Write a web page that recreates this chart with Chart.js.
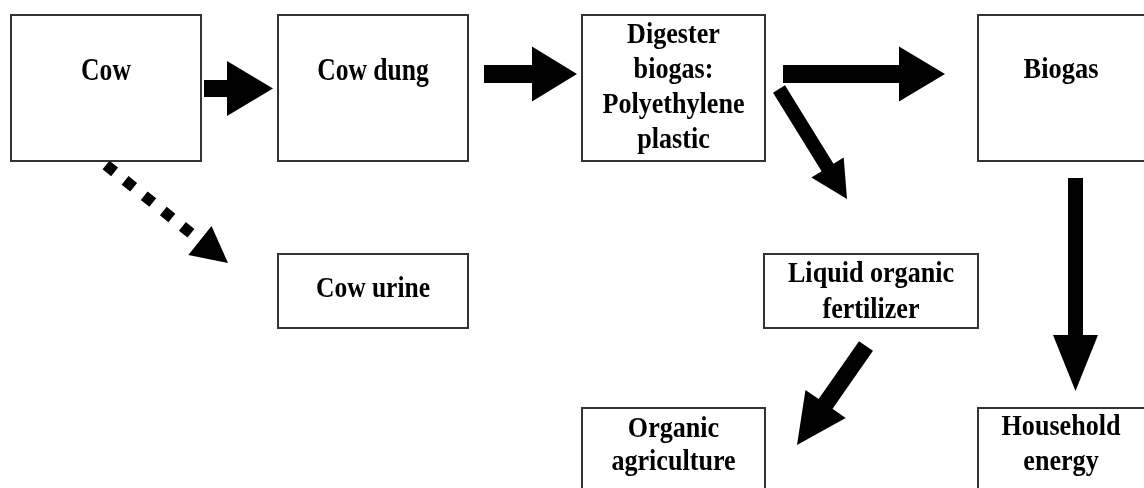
<!DOCTYPE html>
<html>
<head>
<meta charset="utf-8">
<script src="https://cdn.jsdelivr.net/npm/chart.js@4/dist/chart.umd.min.js"></script>
<style>
  html, body { margin: 0; padding: 0; background: #fff; }
  #wrap { width: 1144px; height: 488px; position: relative; }
</style>
</head>
<body>
<div id="wrap"><canvas id="c" width="1144" height="488"></canvas></div>
<script>
// ---- Diagram data (diagram units, y downwards) ----
const nodeLabels = [
  ["Cow"],
  ["Cow dung"],
  ["Digester", "biogas:", "Polyethylene", "plastic"],
  ["Biogas"],
  ["Cow urine"],
  ["Liquid organic", "fertilizer"],
  ["Organic", "agriculture"],
  ["Household", "energy"]
];
const boxLeft   = [11, 278, 582, 978, 278, 764, 582, 978];
const boxTop    = [15, 15, 15, 15, 254, 254, 408, 408];
const boxRight  = [201, 468, 765, 1150, 468, 978, 765, 1150];
const boxBottom = [161, 161, 161, 161, 328, 328, 495, 495];
const textBaselines = [[80], [80], [43, 78, 113, 148], [78], [297], [282, 318], [437, 470], [435, 470]];

// Solid block arrows: start (tail centre) and tip
const arrowFromX = [204, 484, 783, 779, 1075.5, 866];
const arrowFromY = [88.5, 74, 74, 89, 178, 346];
const arrowToX   = [273, 577, 945, 847, 1075.5, 797];
const arrowToY   = [88.5, 74, 74, 199, 391, 445];
// Dotted arrow (Cow -> Cow urine)
const dottedFrom = [106, 165];
const dottedTo   = [228, 263];

// ---- styles ----
const shaftW = [17, 18, 18, 14, 15, 17];
const headW  = [55, 55, 55, 38, 45, 49];
const headL  = [46, 45, 46, 37, 56, 50];
const fontPx = [32, 32, 29, 30, 30, 29, 29, 29];
const fontSX = [0.8, 0.8, 0.9, 0.88, 0.85, 0.9, 0.9, 0.9];

const diagramPlugin = {
  id: 'diagram',
  afterDatasetsDraw(chart) {
    const ctx = chart.ctx;
    const xs = chart.scales.x, ys = chart.scales.y;
    const px = v => xs.getPixelForValue(v);
    const py = v => ys.getPixelForValue(v);
    ctx.save();
    // boxes
    ctx.strokeStyle = '#333';
    ctx.lineWidth = 2;
    for (let i = 0; i < nodeLabels.length; i++) {
      const x0 = px(boxLeft[i]), x1 = px(boxRight[i]);
      const y0 = py(boxTop[i]), y1 = py(boxBottom[i]);
      ctx.fillStyle = '#fff';
      ctx.fillRect(x0, y0, x1 - x0, y1 - y0);
      ctx.strokeRect(x0, y0, x1 - x0, y1 - y0);
      // text
      const cx = (x0 + Math.min(x1, px(1144) + (boxRight[i] > 1144 ? 0 : 0))) / 2;
      const centerX = boxRight[i] > 1144 ? (x0 + px(1144)) / 2 + 0 : (x0 + x1) / 2;
      ctx.fillStyle = '#000';
      ctx.font = 'bold ' + fontPx[i] + 'px "Liberation Serif", "Times New Roman", serif';
      ctx.textAlign = 'center';
      ctx.textBaseline = 'alphabetic';
      nodeLabels[i].forEach((line, k) => {
        ctx.save();
        ctx.translate(centerX, py(textBaselines[i][k]));
        ctx.scale(fontSX[i], 1);
        ctx.fillText(line, 0, 0);
        ctx.restore();
      });
    }
    // block arrows
    ctx.fillStyle = '#000';
    for (let i = 0; i < arrowFromX.length; i++) {
      const sx = px(arrowFromX[i]), sy = py(arrowFromY[i]);
      const tx = px(arrowToX[i]), ty = py(arrowToY[i]);
      const dx = tx - sx, dy = ty - sy;
      const len = Math.hypot(dx, dy);
      const ux = dx / len, uy = dy / len;
      const nx = -uy, ny = ux;
      const bx = tx - ux * headL[i], by = ty - uy * headL[i];
      const s = shaftW[i] / 2, h = headW[i] / 2;
      ctx.beginPath();
      ctx.moveTo(sx + nx * s, sy + ny * s);
      ctx.lineTo(bx + nx * s, by + ny * s);
      ctx.lineTo(bx + nx * h, by + ny * h);
      ctx.lineTo(tx, ty);
      ctx.lineTo(bx - nx * h, by - ny * h);
      ctx.lineTo(bx - nx * s, by - ny * s);
      ctx.lineTo(sx - nx * s, sy - ny * s);
      ctx.closePath();
      ctx.fill();
    }
    // dotted arrow
    {
      const sx = px(dottedFrom[0]), sy = py(dottedFrom[1]);
      const tx = px(dottedTo[0]), ty = py(dottedTo[1]);
      const dx = tx - sx, dy = ty - sy;
      const len = Math.hypot(dx, dy);
      const ux = dx / len, uy = dy / len;
      const nx = -uy, ny = ux;
      const hl = 36, hw = 37;
      const bx = tx - ux * hl, by = ty - uy * hl;
      ctx.strokeStyle = '#000';
      ctx.lineWidth = 11;
      ctx.lineCap = 'butt';
      ctx.setLineDash([11, 13.5]);
      ctx.beginPath();
      ctx.moveTo(sx, sy);
      ctx.lineTo(bx - ux * 4, by - uy * 4);
      ctx.stroke();
      ctx.setLineDash([]);
      ctx.beginPath();
      ctx.moveTo(bx + nx * hw / 2, by + ny * hw / 2);
      ctx.lineTo(tx, ty);
      ctx.lineTo(bx - nx * hw / 2, by - ny * hw / 2);
      ctx.closePath();
      ctx.fill();
    }
    ctx.restore();
  }
};

new Chart(document.getElementById('c'), {
  type: 'scatter',
  data: { datasets: [{ data: [], pointRadius: 0 }] },
  options: {
    responsive: false,
    animation: false,
    layout: { padding: 0 },
    plugins: { legend: { display: false }, tooltip: { enabled: false } },
    scales: {
      x: { type: 'linear', min: 0, max: 1144, display: false },
      y: { type: 'linear', min: 0, max: 488, reverse: true, display: false }
    }
  },
  plugins: [diagramPlugin]
});
</script>
</body>
</html>
